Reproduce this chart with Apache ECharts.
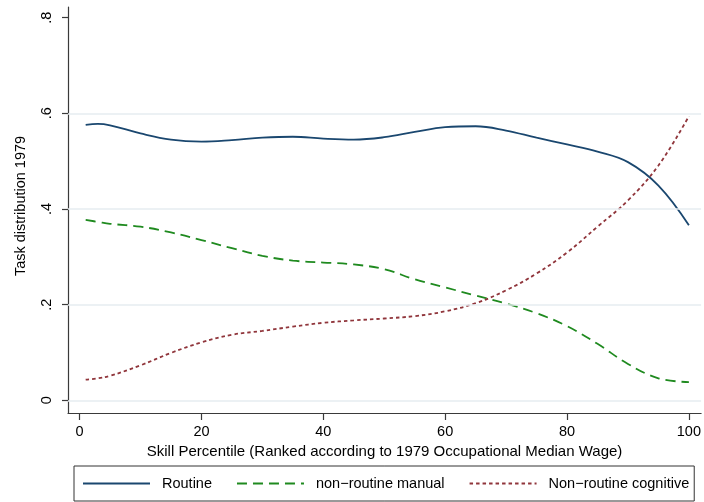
<!DOCTYPE html>
<html>
<head>
<meta charset="utf-8">
<script src="https://cdn.jsdelivr.net/npm/echarts@6/dist/echarts.min.js"></script>
<style>
  html, body { margin: 0; padding: 0; background: #ffffff; }
  #chart { width: 704px; height: 502px; }
</style>
</head>
<body>
<div id="chart"></div>
<script>
// Skill percentile (x) sample points
var percentile = [1, 3, 5, 10, 15, 20, 25, 30, 35, 40, 45, 50, 55, 60, 65, 70, 75, 80, 85, 90, 95, 100];
// Task distribution 1979 by series
var routine = [0.576, 0.578, 0.575, 0.558, 0.545, 0.541, 0.544, 0.549, 0.551, 0.547, 0.545, 0.550, 0.561, 0.571, 0.573, 0.564, 0.549, 0.535, 0.520, 0.498, 0.449, 0.366];
var nonRoutineManual = [0.377, 0.373, 0.369, 0.363, 0.351, 0.335, 0.318, 0.302, 0.292, 0.288, 0.284, 0.274, 0.253, 0.236, 0.219, 0.202, 0.182, 0.155, 0.118, 0.076, 0.046, 0.038];
var nonRoutineCognitive = [0.043, 0.046, 0.051, 0.073, 0.099, 0.121, 0.137, 0.145, 0.154, 0.162, 0.167, 0.171, 0.176, 0.186, 0.203, 0.230, 0.265, 0.309, 0.363, 0.418, 0.491, 0.594];
// Tick labels
var xTicks = [0, 20, 40, 60, 80, 100];
var yTicks = [0, 0.2, 0.4, 0.6, 0.8];
var yTickLabels = ['0', '.2', '.4', '.6', '.8'];
var gridValues = [0, 0.2, 0.4, 0.6];
var seriesNames = ['Routine', 'non\u2212routine manual', 'Non\u2212routine cognitive'];

function pairs(xs, ys) {
  return xs.map(function (x, i) { return [x, ys[i]]; });
}

var FONT = '"Liberation Sans", Arial, Helvetica, sans-serif';
var chart = echarts.init(document.getElementById('chart'), null, { renderer: 'canvas' });

var option = {
  animation: false,
  backgroundColor: '#ffffff',
  textStyle: { fontFamily: FONT, color: '#000' },
  grid: { left: 68, right: 1, top: 7, bottom: 89, containLabel: false },
  xAxis: {
    type: 'value',
    min: -1.9,
    max: 102,
    name: 'Skill Percentile (Ranked according to 1979 Occupational Median Wage)',
    nameLocation: 'middle',
    nameGap: 22,
    nameTextStyle: { fontFamily: FONT, fontSize: 15, color: '#000' },
    axisLine: { show: true, onZero: false, lineStyle: { color: '#3a3a3a', width: 1.2 } },
    axisTick: { show: true, length: 7, customValues: xTicks, lineStyle: { color: '#3a3a3a', width: 1.2 } },
    axisLabel: { customValues: xTicks, margin: 11, fontFamily: FONT, fontSize: 14.5, color: '#000' },
    splitLine: { show: false }
  },
  yAxis: {
    type: 'value',
    min: -0.0266,
    max: 0.8223,
    name: 'Task distribution 1979',
    nameLocation: 'middle',
    nameGap: 40,
    nameTextStyle: { fontFamily: FONT, fontSize: 14.5, color: '#000', padding: [0, 0, 0, 8] },
    axisLine: { show: true, onZero: false, lineStyle: { color: '#3a3a3a', width: 1.2 } },
    axisTick: { show: true, length: 6, customValues: yTicks, lineStyle: { color: '#3a3a3a', width: 1.2 } },
    axisLabel: {
      customValues: yTicks,
      rotate: 90,
      margin: 14,
      fontFamily: FONT,
      fontSize: 14.5,
      color: '#000',
      formatter: function (v) {
        for (var i = 0; i < yTicks.length; i++) {
          if (Math.abs(yTicks[i] - v) < 1e-6) return yTickLabels[i];
        }
        return '';
      }
    },
    splitLine: { show: false }
  },
  legend: {
    data: seriesNames,
    left: 74,
    top: 466,
    padding: [10, 5, 10, 8],
    itemWidth: 67,
    itemHeight: 14,
    itemGap: 24,
    borderColor: '#333',
    borderWidth: 1,
    itemStyle: { color: 'rgba(0,0,0,0)', borderWidth: 0, opacity: 0 },
    textStyle: { fontFamily: FONT, fontSize: 14.5, color: '#000', padding: [0, 0, 0, 7] }
  },
  series: [
    {
      name: 'grid',
      type: 'line',
      data: [],
      z: 1,
      silent: true,
      markLine: {
        silent: true,
        symbol: ['none', 'none'],
        label: { show: false },
        lineStyle: { color: '#e6edf0', width: 1.5, type: 'solid' },
        data: gridValues.map(function (v) { return { yAxis: v }; })
      }
    },
    {
      name: seriesNames[0],
      type: 'line',
      z: 3,
      smooth: 0.4,
      symbol: 'none',
      data: pairs(percentile, routine),
      lineStyle: { color: '#1a476f', width: 1.8, type: 'solid' },
      itemStyle: { color: '#1a476f' }
    },
    {
      name: seriesNames[1],
      type: 'line',
      z: 3,
      smooth: 0.4,
      symbol: 'none',
      data: pairs(percentile, nonRoutineManual),
      lineStyle: { color: '#1f8a1f', width: 1.8, type: [10, 6] },
      itemStyle: { color: '#1f8a1f' }
    },
    {
      name: seriesNames[2],
      type: 'line',
      z: 3,
      smooth: 0.4,
      symbol: 'none',
      data: pairs(percentile, nonRoutineCognitive),
      lineStyle: { color: '#90353b', width: 1.8, type: [3.5, 3] },
      itemStyle: { color: '#90353b' }
    }
  ]
};
chart.setOption(option);
</script>
</body>
</html>
